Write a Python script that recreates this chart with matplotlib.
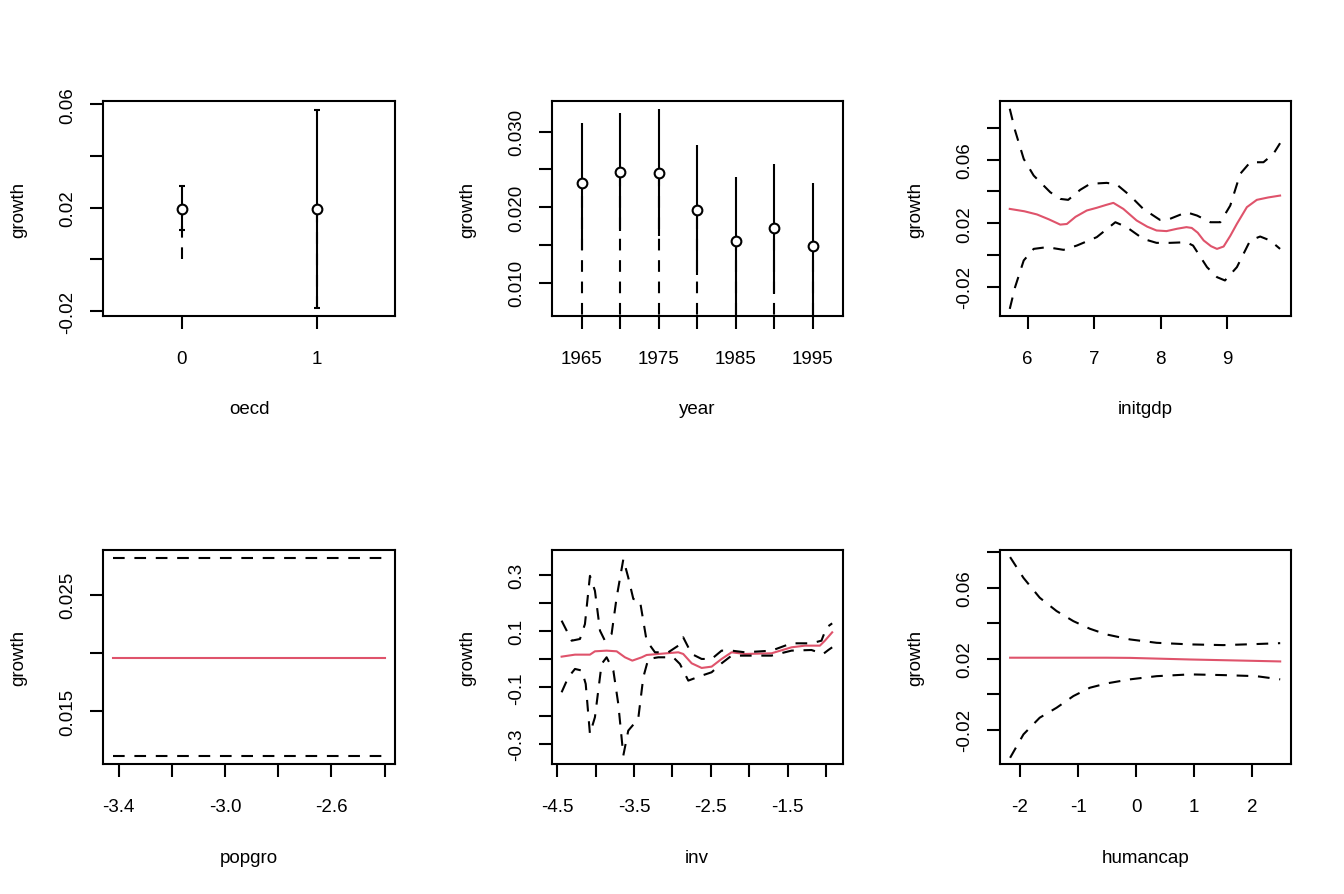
import matplotlib
matplotlib.use('Agg')
import matplotlib.pyplot as plt

plt.rcParams['font.family'] = ['Liberation Sans', 'DejaVu Sans']
plt.rcParams['lines.scale_dashes'] = False

RED = '#DF536B'
LW = 1.5
DASH = (0, (8.4, 7.0))
FS = 13.5

# ---- Panel 1: oecd (factor) ----
oecd_levels = [0, 1]
oecd_fit = [0.0197, 0.0197]
oecd_lo = [0.0113, -0.0188]
oecd_hi = [0.0284, 0.0578]
oecd_dash_lo = [0.0000, -0.0188]

# ---- Panel 2: year (factor) ----
years = [1965, 1970, 1975, 1980, 1985, 1990, 1995]
year_fit = [0.02317, 0.02462, 0.02457, 0.01967, 0.01552, 0.01720, 0.01486]
year_hi = [0.03115, 0.03248, 0.03300, 0.02824, 0.02396, 0.02572, 0.02317]
year_lo = [0.01433, 0.01689, 0.01622, 0.01102, 0.00400, 0.00850, 0.00400]
year_dash_lo = [0.00300, 0.00300, 0.00300, 0.00300, 0.00300, 0.00300, 0.00300]

# ---- Panel 3: initgdp ----
initgdp_x = [5.73, 5.95, 6.14, 6.32, 6.49, 6.59, 6.72, 6.89, 7.04, 7.18, 7.29,
             7.44, 7.64, 7.80, 7.94, 8.09, 8.25, 8.39, 8.47, 8.56, 8.65, 8.76,
             8.85, 8.95, 9.05, 9.15, 9.30, 9.45, 9.62, 9.80]
initgdp_fit = [0.0290, 0.0275, 0.0255, 0.0224, 0.0191, 0.0195, 0.0240, 0.0280,
               0.0297, 0.0315, 0.0328, 0.0290, 0.0217, 0.0178, 0.0154, 0.0150,
               0.0165, 0.0175, 0.0170, 0.0140, 0.0091, 0.0055, 0.0038, 0.0053,
               0.0120, 0.0196, 0.0301, 0.0347, 0.0362, 0.0374]
initgdp_ux = [5.73, 5.81, 5.94, 6.09, 6.34, 6.49, 6.61, 6.79, 6.94, 7.19, 7.34,
              7.54, 7.74, 7.99, 8.14, 8.39, 8.55, 8.75, 8.90, 9.05, 9.20, 9.35,
              9.55, 9.70, 9.80]
initgdp_up = [0.0921, 0.0784, 0.0605, 0.0500, 0.0395, 0.0353, 0.0347, 0.0410,
              0.0448, 0.0454, 0.0444, 0.0374, 0.0290, 0.0221, 0.0227, 0.0269,
              0.0248, 0.0206, 0.0206, 0.0311, 0.0511, 0.0584, 0.0584, 0.0637,
              0.0704]
initgdp_lx = [5.73, 5.81, 5.94, 6.09, 6.29, 6.54, 6.74, 7.04, 7.32, 7.49, 7.74,
              7.94, 8.14, 8.39, 8.49, 8.70, 8.85, 8.97, 9.15, 9.35, 9.50, 9.65,
              9.80]
initgdp_lw = [-0.0340, -0.0203, -0.0035, 0.0038, 0.0049, 0.0032, 0.0059, 0.0112,
              0.0206, 0.0175, 0.0101, 0.0076, 0.0076, 0.0080, 0.0059, -0.0077,
              -0.0140, -0.0161, -0.0077, 0.0091, 0.0116, 0.0091, 0.0038]

# ---- Panel 4: popgro ----
popgro_x = [-3.42, -2.40]
popgro_fit = [0.0196, 0.0196]
popgro_up = [0.02815, 0.02815]
popgro_lw = [0.01114, 0.01114]

# ---- Panel 5: inv ----
inv_x = [-4.444, -4.27, -4.075, -4.01, -3.858, -3.727, -3.619, -3.523, -3.40,
         -3.337, -3.185, -2.924, -2.86, -2.75, -2.62, -2.49, -2.36, -2.23,
         -2.056, -1.71, -1.45, -1.275, -1.08, -1.015, -0.92]
inv_fit = [0.0094, 0.0165, 0.0165, 0.0283, 0.0307, 0.0283, 0.0071, -0.0047,
           0.0071, 0.0153, 0.0189, 0.0248, 0.0189, -0.0142, -0.0307, -0.0260,
           0.0012, 0.0248, 0.0189, 0.0213, 0.0425, 0.0484, 0.0484, 0.0660,
           0.0956]
inv_ux = [-4.444, -4.378, -4.313, -4.205, -4.14, -4.075, -4.01, -3.944, -3.88,
          -3.793, -3.727, -3.64, -3.576, -3.51, -3.424, -3.337, -3.228, -3.055,
          -2.924, -2.86, -2.75, -2.62, -2.49, -2.36, -2.23, -2.056, -1.71,
          -1.45, -1.19, -1.06, -0.993, -0.92]
inv_up = [0.137, 0.1015, 0.066, 0.072, 0.125, 0.296, 0.243, 0.1015, 0.066,
          0.0897, 0.220, 0.355, 0.290, 0.214, 0.208, 0.066, 0.0248, 0.0248,
          0.0484, 0.0779, 0.0189, 0.0012, 0.0012, 0.0307, 0.0307, 0.0248,
          0.0307, 0.0567, 0.0567, 0.066, 0.113, 0.1275]
inv_lx = [-4.444, -4.357, -4.27, -4.18, -4.13, -4.075, -4.01, -3.923, -3.858,
          -3.77, -3.706, -3.64, -3.576, -3.446, -3.38, -3.315, -3.185, -2.99,
          -2.903, -2.794, -2.62, -2.49, -2.36, -2.23, -2.056, -1.71, -1.45,
          -1.19, -1.037, -0.97, -0.92]
inv_lw = [-0.117, -0.0638, -0.0342, -0.040, -0.0874, -0.2645, -0.2054, -0.0165,
          0.0071, -0.040, -0.158, -0.341, -0.253, -0.211, -0.0638, 0.0012,
          0.0071, 0.0071, -0.0165, -0.0756, -0.0579, -0.046, -0.0142, 0.013,
          0.013, 0.013, 0.0307, 0.033, 0.0189, 0.033, 0.0425]

# ---- Panel 6: humancap ----
hc_x = [-2.17, -1.94, -1.66, -1.37, -1.08, -0.795, -0.51, -0.106, 0.353,
        0.927, 1.50, 2.07, 2.48]
hc_fit = [0.0206, 0.0206, 0.0206, 0.0206, 0.0206, 0.0206, 0.0206, 0.0205,
          0.0201, 0.0196, 0.0192, 0.0188, 0.0185]
hc_up = [0.0773, 0.0656, 0.0544, 0.0469, 0.0412, 0.0369, 0.0337, 0.0309,
         0.0290, 0.0281, 0.0277, 0.0283, 0.0288]
hc_lw = [-0.0358, -0.0226, -0.0132, -0.0076, -0.0010, 0.0037, 0.0061, 0.0084,
         0.0102, 0.0112, 0.0108, 0.0102, 0.0084]

# ---- tick definitions ----
ticks = {
    'oecd': ([0, 1], ['0', '1'],
             [-0.02, 0.0, 0.02, 0.04, 0.06], ['-0.02', '', '0.02', '', '0.06']),
    'year': (years, ['1965', '', '1975', '', '1985', '', '1995'],
             [0.010, 0.015, 0.020, 0.025, 0.030], ['0.010', '', '0.020', '', '0.030']),
    'initgdp': ([6, 7, 8, 9], ['6', '7', '8', '9'],
                [-0.02, 0.0, 0.02, 0.04, 0.06, 0.08],
                ['-0.02', '', '0.02', '', '0.06', '']),
    'popgro': ([-3.4, -3.2, -3.0, -2.8, -2.6, -2.4],
               ['-3.4', '', '-3.0', '', '-2.6', ''],
               [0.015, 0.020, 0.025], ['0.015', '', '0.025']),
    'inv': ([-4.5, -4.0, -3.5, -3.0, -2.5, -2.0, -1.5, -1.0],
            ['-4.5', '', '-3.5', '', '-2.5', '', '-1.5', ''],
            [-0.3, -0.2, -0.1, 0.0, 0.1, 0.2, 0.3],
            ['-0.3', '', '-0.1', '', '0.1', '', '0.3']),
    'humancap': ([-2, -1, 0, 1, 2], ['-2', '-1', '0', '1', '2'],
                 [-0.02, 0.0, 0.02, 0.04, 0.06, 0.08],
                 ['-0.02', '', '0.02', '', '0.06', '']),
}

limits = {
    'oecd': ((-0.58, 1.58), (-0.0218, 0.0612)),
    'year': ((1961.1, 1998.9), (0.00563, 0.03403)),
    'initgdp': ((5.583, 9.96), (-0.0383, 0.0968)),
    'popgro': ((-3.458, -2.361), (0.01048, 0.02883)),
    'inv': ((-4.573, -0.783), (-0.3713, 0.3876)),
    'humancap': ((-2.344, 2.661), (-0.0393, 0.0813)),
}

W, H = 1344, 895
fig = plt.figure(figsize=(W / 100, H / 100), dpi=100)

cols = [(103.3, 395.0), (551.7, 842.7), (1000.0, 1290.7)]
rows = [(102.3, 316.7), (551.0, 765.0)]
names = [['oecd', 'year', 'initgdp'], ['popgro', 'inv', 'humancap']]

axes = {}
for r, (t, b) in enumerate(rows):
    for c, (l, rr) in enumerate(cols):
        ax = fig.add_axes([l / W, 1 - b / H, (rr - l) / W, (b - t) / H])
        axes[names[r][c]] = ax


def style(ax, name):
    xt, xl, yt, yl = ticks[name]
    (x0, x1), (y0, y1) = limits[name]
    ax.set_xlim(x0, x1)
    ax.set_ylim(y0, y1)
    ax.set_xticks(xt)
    ax.set_xticklabels(xl)
    ax.set_yticks(yt)
    ax.set_yticklabels(yl, rotation=90, va='center')
    for s in ax.spines.values():
        s.set_linewidth(LW)
    ax.tick_params(axis='both', length=9.4, width=LW, labelsize=FS, direction='out')
    ax.tick_params(axis='x', pad=15)
    ax.tick_params(axis='y', pad=10)
    ax.set_xlabel(name, fontsize=FS)
    ax.set_ylabel('growth', fontsize=FS)
    box = ax.get_position()
    bw, bh = box.width * W, box.height * H
    ax.xaxis.set_label_coords(0.5, -(410 - 316.7) / bh)
    ax.xaxis.label.set_va('center')
    ax.yaxis.set_label_coords(-(103.3 - 19) / bw, 0.5)
    ax.yaxis.label.set_va('center')


# Panel 1
ax = axes['oecd']
for x, f, lo, hi, dlo in zip(oecd_levels, oecd_fit, oecd_lo, oecd_hi, oecd_dash_lo):
    ax.plot([x, x], [dlo, f], color='black', lw=LW, linestyle=DASH)
    ax.errorbar([x], [f], yerr=[[f - lo], [hi - f]], fmt='o', mfc='white',
                mec='black', mew=LW, ms=7, color='black', elinewidth=LW,
                capsize=2.2, capthick=LW)
style(ax, 'oecd')

# Panel 2
ax = axes['year']
for x, f, lo, hi, dlo in zip(years, year_fit, year_lo, year_hi, year_dash_lo):
    ax.plot([x, x], [dlo, f], color='black', lw=LW, linestyle=DASH)
    ax.plot([x, x], [lo, hi], color='black', lw=LW, solid_capstyle='butt')
    ax.plot([x], [f], 'o', mfc='white', mec='black', mew=LW, ms=7)
style(ax, 'year')

# Panel 3
ax = axes['initgdp']
ax.plot(initgdp_x, initgdp_fit, color=RED, lw=LW)
ax.plot(initgdp_ux, initgdp_up, color='black', lw=LW, linestyle=DASH)
ax.plot(initgdp_lx, initgdp_lw, color='black', lw=LW, linestyle=DASH)
style(ax, 'initgdp')

# Panel 4
ax = axes['popgro']
ax.plot(popgro_x, popgro_fit, color=RED, lw=LW)
ax.plot(popgro_x, popgro_up, color='black', lw=LW, linestyle=DASH)
ax.plot(popgro_x, popgro_lw, color='black', lw=LW, linestyle=DASH)
style(ax, 'popgro')

# Panel 5
ax = axes['inv']
ax.plot(inv_x, inv_fit, color=RED, lw=LW)
ax.plot(inv_ux, inv_up, color='black', lw=LW, linestyle=DASH)
ax.plot(inv_lx, inv_lw, color='black', lw=LW, linestyle=DASH)
style(ax, 'inv')

# Panel 6
ax = axes['humancap']
ax.plot(hc_x, hc_fit, color=RED, lw=LW)
ax.plot(hc_x, hc_up, color='black', lw=LW, linestyle=DASH)
ax.plot(hc_x, hc_lw, color='black', lw=LW, linestyle=DASH)
style(ax, 'humancap')

fig.savefig('out.png', dpi=100)
